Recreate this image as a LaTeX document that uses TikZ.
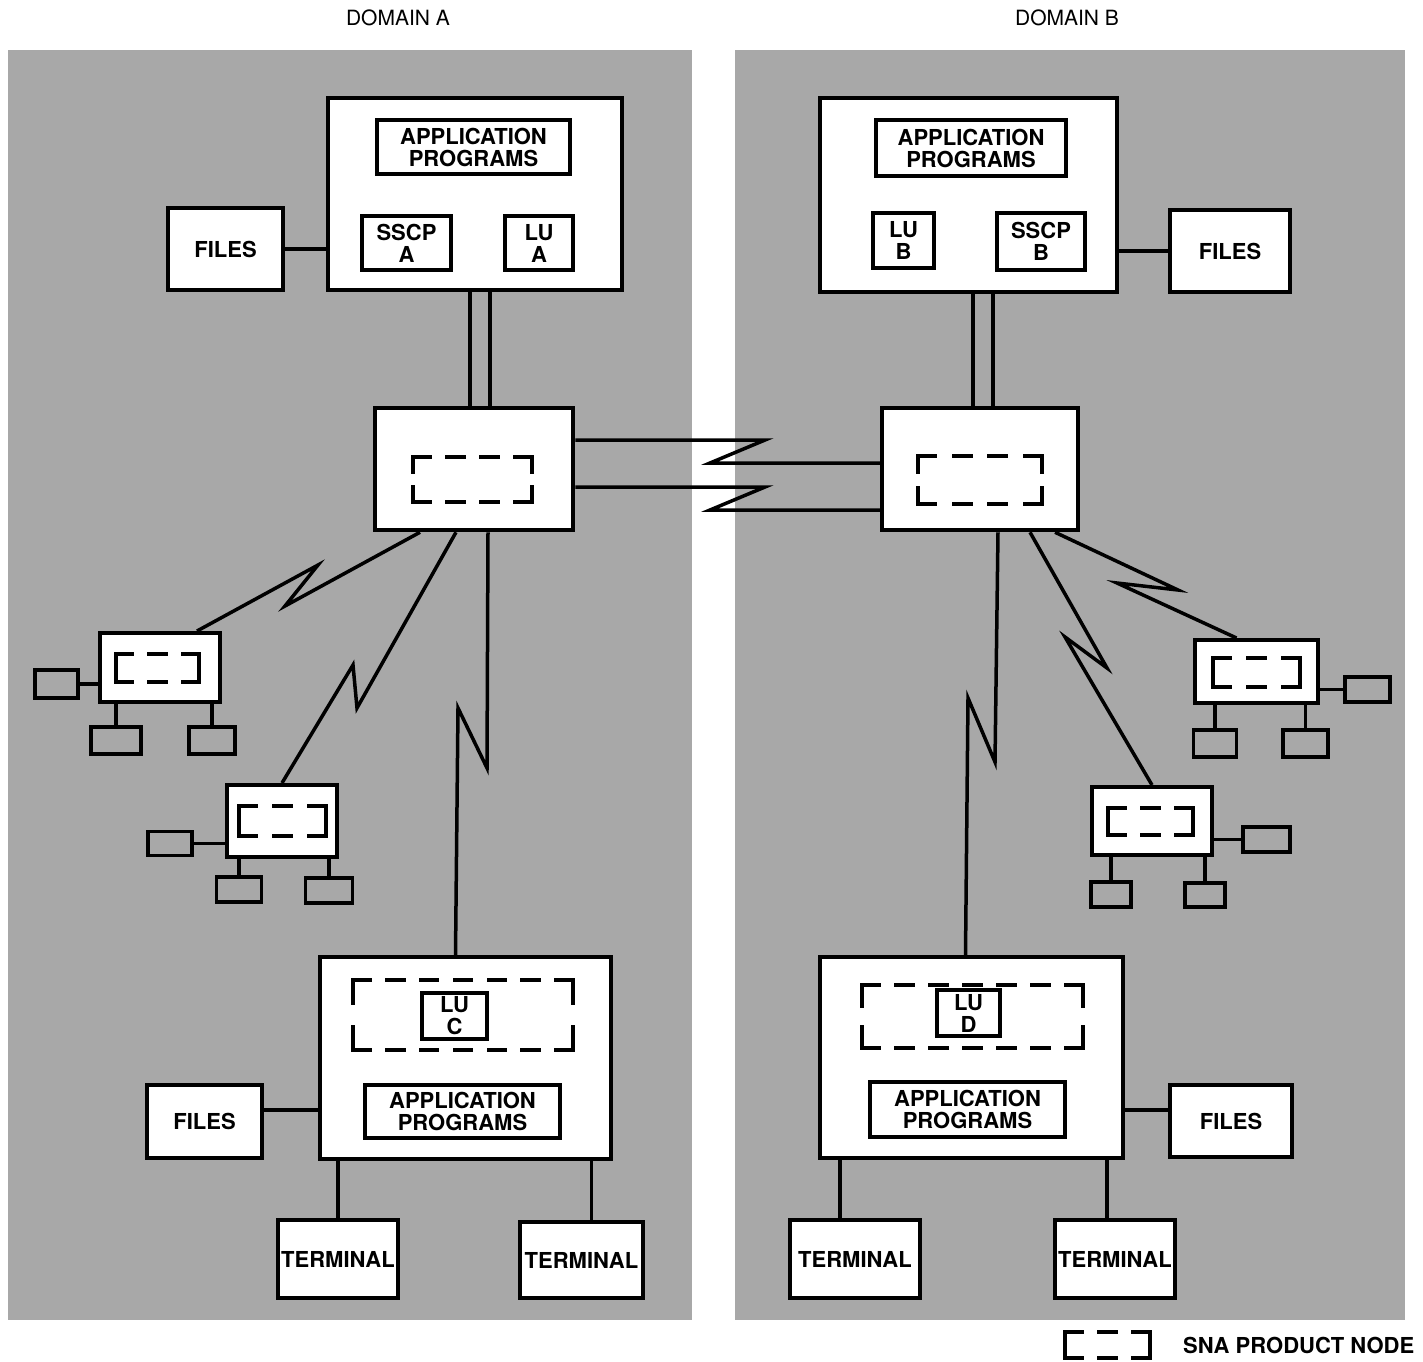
\documentclass[tikz,border=0pt]{standalone}
\usepackage{fontspec}
\setmainfont{TeX Gyre Heros}
\usepackage{tikz}
\usetikzlibrary{positioning}
\definecolor{panelgray}{gray}{0.66}

% dashed "SNA product node" frame: x1 y1 x2 y2, dashes across, dashes down
\newcommand{\snabox}[6]{%
  \pgfmathsetmacro{\snaH}{(#3-#1)/(2*#5-1)}%
  \pgfmathsetmacro{\snaV}{(#4-#2)/(2*#6-1)}%
  \draw[snaline, dash pattern=on \snaH pt off \snaH pt] (#1,#2) -- (#3,#2) (#1,#4) -- (#3,#4);
  \draw[snaline, dash pattern=on \snaV pt off \snaV pt] (#1,#2) -- (#1,#4) (#3,#2) -- (#3,#4);
}

\begin{document}
\begin{tikzpicture}[x=1pt,y=-1pt,
  every node/.style={font=\fontsize{22}{22}\selectfont\bfseries, align=center, inner sep=0pt},
  host/.style={draw, line width=4.5pt, fill=white},
  sub/.style={draw, line width=3.5pt, fill=white},
  dev/.style={draw, line width=3.5pt},
  link/.style={line width=3.5pt},
  snaline/.style={line width=3.5pt, line cap=rect}]
\useasboundingbox (0,0) rectangle (1423,1361);

% domains
\fill[panelgray] (8,50) rectangle (692,1320);
\fill[panelgray] (735,50) rectangle (1405,1320);
\node[font=\fontsize{21}{22}\selectfont] (domA) at (398,18) {DOMAIN A};
\node[font=\fontsize{21}{22}\selectfont] (domB) at (1067,18) {DOMAIN B};

% ---- domain A
\node[host, minimum width=294pt, minimum height=192pt] (hostA) at (475,194) {};
\node[sub, minimum width=193pt, minimum height=54pt] (appA) at (473.5,147) {APPLICATION\\PROGRAMS};
\node[sub, minimum width=89pt, minimum height=54pt] (sscpA) at (406.5,243) {SSCP\\A};
\node[sub, minimum width=68pt, minimum height=54pt] (luA) at (539,243) {LU\\A};
\node[host, minimum width=115pt, minimum height=82pt] (filesA) at (225.5,249) {FILES};

\node[host, minimum width=198pt, minimum height=122pt] (ccA) at (474,469) {};
\snabox{413}{457}{532}{502}{4}{2}

\node[host, line width=4pt, minimum width=120pt, minimum height=69pt] (remA1) at (160,667.5) {};
\snabox{116}{654}{199}{682}{3}{1}
\node[dev, minimum width=43pt, minimum height=28pt] (tA1l) at (56.5,684) {};
\node[dev, minimum width=50pt, minimum height=27pt] (tA1a) at (116,740.5) {};
\node[dev, minimum width=46pt, minimum height=27pt] (tA1b) at (212,740.5) {};

\node[host, line width=4pt, minimum width=110pt, minimum height=72pt] (remA2) at (282,821) {};
\snabox{239}{806}{326}{836}{3}{1}
\node[dev, minimum width=44pt, minimum height=24pt] (tA2l) at (170,843.5) {};
\node[dev, minimum width=45pt, minimum height=25pt] (tA2a) at (239,889.5) {};
\node[dev, minimum width=47pt, minimum height=25pt] (tA2b) at (329,890.5) {};

\node[host, minimum width=291pt, minimum height=202pt] (hostC) at (465.5,1058) {};
\snabox{353}{980}{573}{1050}{7}{2}
\node[sub, minimum width=65pt, minimum height=46pt] (luC) at (454.5,1016) {LU\\C};
\node[sub, minimum width=195pt, minimum height=53pt] (appC) at (462.5,1111.5) {APPLICATION\\PROGRAMS};
\node[host, minimum width=115pt, minimum height=73pt] (filesC) at (204.5,1121.5) {FILES};
\node[host, minimum width=120pt, minimum height=78pt] (termC1) at (338,1259) {TERMINAL};
\node[host, minimum width=123pt, minimum height=76pt] (termC2) at (581.5,1260) {TERMINAL};

% ---- domain B
\node[host, minimum width=297pt, minimum height=194pt] (hostB) at (968.5,195) {};
\node[sub, minimum width=190pt, minimum height=56pt] (appB) at (971,148) {APPLICATION\\PROGRAMS};
\node[sub, minimum width=61pt, minimum height=55pt] (luB) at (903.5,240.5) {LU\\B};
\node[sub, minimum width=88pt, minimum height=57pt] (sscpB) at (1041,241.5) {SSCP\\B};
\node[host, minimum width=120pt, minimum height=82pt] (filesB) at (1230,251) {FILES};

\node[host, minimum width=196pt, minimum height=122pt] (ccB) at (980,469) {};
\snabox{918}{456}{1042}{504}{4}{2}

\node[host, line width=4pt, minimum width=123pt, minimum height=63pt] (remB1) at (1256.5,671.5) {};
\snabox{1213}{658}{1300}{687}{3}{1}
\node[dev, minimum width=45pt, minimum height=25pt] (tB1r) at (1367.5,689.5) {};
\node[dev, minimum width=43pt, minimum height=27pt] (tB1a) at (1215,743.5) {};
\node[dev, minimum width=45pt, minimum height=27pt] (tB1b) at (1305.5,743.5) {};

\node[host, line width=4pt, minimum width=120pt, minimum height=68pt] (remB2) at (1152,821) {};
\snabox{1108}{808}{1193}{835}{3}{1}
\node[dev, minimum width=47pt, minimum height=25pt] (tB2r) at (1266.5,839.5) {};
\node[dev, minimum width=40pt, minimum height=25pt] (tB2a) at (1111,894.5) {};
\node[dev, minimum width=40pt, minimum height=24pt] (tB2b) at (1205,895) {};

\node[host, minimum width=303pt, minimum height=201pt] (hostD) at (971.5,1057.5) {};
\snabox{862}{985}{1083}{1048}{7}{2}
\node[sub, minimum width=63pt, minimum height=46pt] (luD) at (968.5,1013) {LU\\D};
\node[sub, minimum width=195pt, minimum height=55pt] (appD) at (967.5,1109.5) {APPLICATION\\PROGRAMS};
\node[host, minimum width=122pt, minimum height=72pt] (filesD) at (1231,1121) {FILES};
\node[host, minimum width=130pt, minimum height=78pt] (termD1) at (855,1259) {TERMINAL};
\node[host, minimum width=120pt, minimum height=78pt] (termD2) at (1115,1259) {TERMINAL};

% legend
\snabox{1065}{1332}{1150}{1358}{3}{1}
\node[anchor=west] (legend) at (1183,1345) {SNA PRODUCT NODE};

% ---- links, domain A
\draw[link] (filesA.east) -- (filesA.east -| hostA.west);
\draw[link] ([xshift=-5pt]hostA.south) -- ([xshift=-5pt]hostA.south |- ccA.north);
\draw[link] ([xshift=15pt]hostA.south) -- ([xshift=15pt]hostA.south |- ccA.north);
\draw[link] ([xshift=-54pt]ccA.south) -- (285,606) -- (318,565) -- ([xshift=37pt]remA1.north);
\draw[link] ([xshift=-18pt]ccA.south) -- (357,708) -- (353,665) -- (remA2.north);
\draw[link] ([xshift=14pt]ccA.south) -- (487,768) -- (458,708) -- ([xshift=-10pt]hostC.north);
\draw[link] (tA1l.east) -- (tA1l.east -| remA1.west);
\draw[link] (tA1a.north) -- (tA1a.north |- remA1.south);
\draw[link] (tA1b.north) -- (tA1b.north |- remA1.south);
\draw[link] (tA2l.east) -- (tA2l.east -| remA2.west);
\draw[link] (tA2a.north) -- (tA2a.north |- remA2.south);
\draw[link] (tA2b.north) -- (tA2b.north |- remA2.south);
\draw[link] ([yshift=11.5pt]filesC.east) -- ([yshift=11.5pt]filesC.east -| hostC.west);
\draw[link] (termC1.north) -- (termC1.north |- hostC.south);
\draw[link] ([xshift=10pt]termC2.north) -- ([xshift=10pt]termC2.north |- hostC.south);

% ---- links between domains
\draw[link] ([yshift=29pt]ccA.east) -- (765,440) -- (710,463) -- ([yshift=6pt]ccB.west);
\draw[link] ([yshift=-18pt]ccA.east) -- (765,487) -- (710,510) -- ([yshift=-41pt]ccB.west);

% ---- links, domain B
\draw[link] (filesB.west) -- (filesB.west -| hostB.east);
\draw[link] ([xshift=4.5pt]hostB.south) -- ([xshift=4.5pt]hostB.south |- ccB.north);
\draw[link] ([xshift=24.5pt]hostB.south) -- ([xshift=24.5pt]hostB.south |- ccB.north);
\draw[link] ([xshift=75pt]ccB.south) -- (1178,590) -- (1117,583) -- ([xshift=-20pt]remB1.north);
\draw[link] ([xshift=50pt]ccB.south) -- (1107,668) -- (1065,637) -- (remB2.north);
\draw[link] ([xshift=18pt]ccB.south) -- (995,762) -- (968,698) -- ([xshift=-6pt]hostD.north);
\draw[link] (tB1r.west) -- (tB1r.west -| remB1.east);
\draw[link] (tB1a.north) -- (tB1a.north |- remB1.south);
\draw[link] (tB1b.north) -- (tB1b.north |- remB1.south);
\draw[link] (tB2r.west) -- (tB2r.west -| remB2.east);
\draw[link] (tB2a.north) -- (tB2a.north |- remB2.south);
\draw[link] (tB2b.north) -- (tB2b.north |- remB2.south);
\draw[link] ([yshift=11pt]filesD.west) -- ([yshift=11pt]filesD.west -| hostD.east);
\draw[link] ([xshift=-15pt]termD1.north) -- ([xshift=-15pt]termD1.north |- hostD.south);
\draw[link] ([xshift=-8pt]termD2.north) -- ([xshift=-8pt]termD2.north |- hostD.south);
\end{tikzpicture}
\end{document}
